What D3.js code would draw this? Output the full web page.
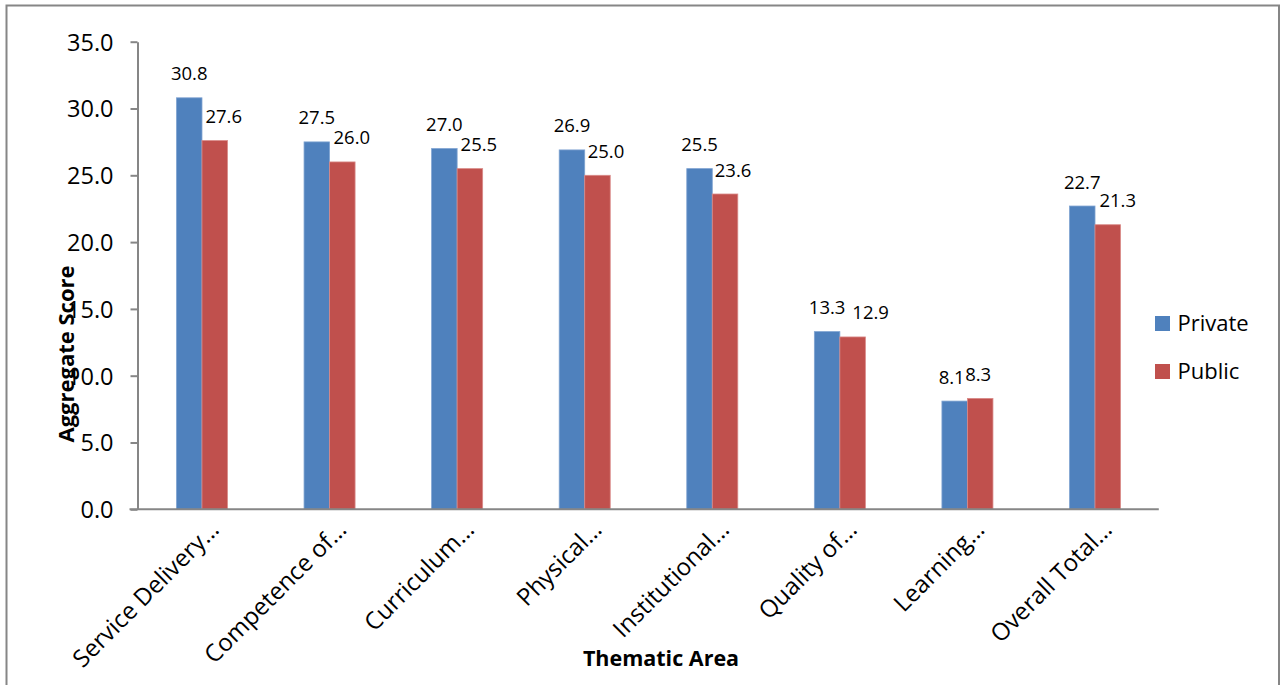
<!DOCTYPE html>
<html>
<head>
<meta charset="utf-8">
<script src="https://cdn.jsdelivr.net/npm/d3@7/dist/d3.min.js"></script>
<style>
  html, body { margin: 0; padding: 0; background: #fff; }
  svg { display: block; font-family: "Open Sans", "Liberation Sans", sans-serif; }
</style>
</head>
<body>
<svg id="chart" width="1285" height="685"></svg>
<script>
// Thematic areas (labels are shortened as in the printed report)
const categories = [
  "Service Delivery…",
  "Competence of…",
  "Curriculum…",
  "Physical…",
  "Institutional…",
  "Quality of…",
  "Learning…",
  "Overall Total…"
];
const seriesNames = ["Private", "Public"];
const privateScores = [30.8, 27.5, 27.0, 26.9, 25.5, 13.3, 8.1, 22.7];
const publicScores  = [27.6, 26.0, 25.5, 25.0, 23.6, 12.9, 8.3, 21.3];
const yTicks = [0, 5, 10, 15, 20, 25, 30, 35];

// Layout
const colors = { Private: "#4F81BD", Public: "#C0504D" };
const edges  = { Private: "#7FA3D1", Public: "#D98A88" };
const axisColor = "#868686";
// horizontal nudges for the value labels, per series, per category
const labelNudge = {
  Private: [0, 0, 0, 0, 0, 0, -3, 0],
  Public:  [9, 9.5, 9, 8.5, 8, 18, -2, 10]
};

const svg = d3.select("#chart");

// outer frame of the chart
svg.append("path")
  .attr("d", "M6.5,690 V5.5 H1279 V690")
  .attr("fill", "none")
  .attr("stroke", axisColor)
  .attr("stroke-width", 2);

const x = d3.scaleBand()
  .domain(categories)
  .range([138.2, 1158.8])
  .paddingInner(0.6)
  .paddingOuter(0.3);

const xs = d3.scaleBand()
  .domain(seriesNames)
  .range([0, x.bandwidth()]);

const y = d3.scaleLinear()
  .domain([0, 35])
  .range([509.3, 41.7]);

const rows = categories.map((c, i) => ({
  category: c,
  index: i,
  values: [
    { series: "Private", value: privateScores[i] },
    { series: "Public", value: publicScores[i] }
  ]
}));

// bars
const groups = svg.append("g").selectAll("g")
  .data(rows)
  .join("g")
  .attr("transform", d => `translate(${x(d.category)},0)`);

groups.selectAll("rect")
  .data(d => d.values)
  .join("rect")
  .attr("x", d => xs(d.series))
  .attr("y", d => y(d.value))
  .attr("width", xs.bandwidth())
  .attr("height", d => y(0) - y(d.value))
  .attr("fill", d => colors[d.series])
  .attr("stroke", d => edges[d.series])
  .attr("stroke-width", 0.8);

// value labels
groups.selectAll("text")
  .data(d => d.values.map(v => ({ ...v, index: d.index })))
  .join("text")
  .attr("x", d => xs(d.series) + xs.bandwidth() / 2 + labelNudge[d.series][d.index])
  .attr("y", d => y(d.value) - 17.5)
  .attr("text-anchor", "middle")
  .attr("font-size", 18.5)
  .attr("fill", "#000")
  .text(d => d.value.toFixed(1));

// y axis
const yAxis = d3.axisLeft(y)
  .tickValues(yTicks)
  .tickFormat(d3.format(".1f"))
  .tickSize(7)
  .tickSizeOuter(0)
  .tickPadding(17);

const gy = svg.append("g")
  .attr("transform", "translate(137.5,0)")
  .call(yAxis);
gy.select(".domain").attr("stroke", axisColor).attr("stroke-width", 2);
gy.selectAll(".tick line").attr("stroke", axisColor).attr("stroke-width", 2);
gy.selectAll(".tick text")
  .attr("font-size", 23.5)
  .attr("font-family", "'Open Sans', sans-serif")
  .attr("fill", "#000")
  .attr("dy", "0.36em");

// x axis
const xAxis = d3.axisBottom(x).tickSize(0).tickSizeOuter(0).tickFormat("");
const gx = svg.append("g")
  .attr("transform", `translate(0,${y(0)})`)
  .call(xAxis);
gx.select(".domain")
  .attr("stroke", axisColor)
  .attr("stroke-width", 2)
  .attr("d", `M129.5,0H${x.range()[1]}`);

// rotated category labels
svg.append("g").selectAll("text")
  .data(categories)
  .join("text")
  .attr("transform", d => `translate(${x(d) + x.bandwidth() / 2 + 18.5},531) rotate(-45)`)
  .attr("text-anchor", "end")
  .attr("font-size", 24)
  .attr("fill", "#000")
  .text(d => d);

// axis titles
svg.append("text")
  .attr("x", 661)
  .attr("y", 666)
  .attr("text-anchor", "middle")
  .attr("font-size", 21.5)
  .attr("font-weight", "bold")
  .attr("fill", "#000")
  .text("Thematic Area");

svg.append("text")
  .attr("transform", "translate(73.5,354) rotate(-90)")
  .attr("text-anchor", "middle")
  .attr("font-size", 22)
  .attr("font-weight", "bold")
  .attr("fill", "#000")
  .text("Aggregate Score");

// legend
const legend = svg.append("g").selectAll("g")
  .data(seriesNames)
  .join("g")
  .attr("transform", (d, i) => `translate(1155,${316 + i * 48})`);

legend.append("rect")
  .attr("width", 15)
  .attr("height", 15)
  .attr("fill", d => colors[d]);

legend.append("text")
  .attr("x", 22.5)
  .attr("y", 14.8)
  .attr("font-size", 22)
  .attr("fill", "#000")
  .text(d => d);
</script>
</body>
</html>
